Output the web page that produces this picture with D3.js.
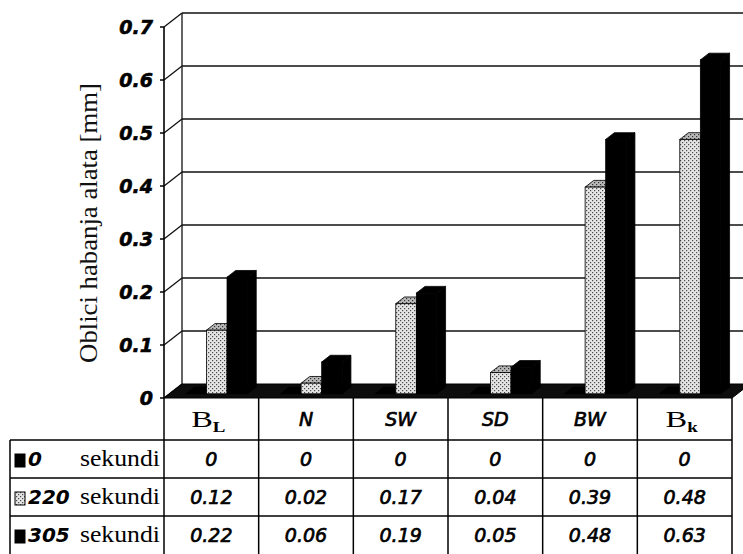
<!DOCTYPE html>
<html><head><meta charset="utf-8">
<script src="https://cdn.jsdelivr.net/npm/d3@7"></script>
<style>body{margin:0;background:#fff}svg{display:block}</style>
</head><body><svg id="c" width="743" height="554"></svg>
<script>
const categories = ["B_L","N","SW","SD","BW","B_k"];
const seriesNames = ["0","220","305"];
const seriesUnit = "sekundi";
const values0 = [0,0,0,0,0,0];
const values220 = [0.12,0.02,0.17,0.04,0.39,0.48];
const values305 = [0.22,0.06,0.19,0.05,0.48,0.63];
const yTicks = [0,0.1,0.2,0.3,0.4,0.5,0.6,0.7];
const yTitle = "Oblici habanja alata [mm]";

const SERIF = "'Liberation Serif', 'Times New Roman', Times, serif";
const SANS = "'DejaVu Sans', sans-serif";
const series = [values0, values220, values305];
const svg = d3.select("#c");
svg.append("rect").attr("width",743).attr("height",554).attr("fill","#fff");

const plotL=164, plotR=732, plotBottom=398, plotTop=27;
const DX=18, DY=-14, zFront=0.3, zBack=0.78;
const tableTop=440, tableBottom=554, legendL=10;

const x = d3.scaleBand().domain(categories).range([plotL,plotR]);
const xs = d3.scaleBand().domain(seriesNames).range([0,x.bandwidth()]).paddingInner(0).paddingOuter(0.8);
const y = d3.scaleLinear().domain([0,0.7]).range([plotBottom,plotTop]);
const rowY = d3.scaleBand().domain(seriesNames).range([tableTop,tableBottom]);

const defs = svg.append("defs");
function dotPattern(id, bg, dot){
  const p = defs.append("pattern").attr("id",id).attr("width",4).attr("height",4).attr("patternUnits","userSpaceOnUse");
  p.append("rect").attr("width",4).attr("height",4).attr("fill",bg);
  p.append("rect").attr("x",0).attr("y",0).attr("width",1.2).attr("height",1.2).attr("fill",dot);
  p.append("rect").attr("x",2).attr("y",2).attr("width",1.2).attr("height",1.2).attr("fill",dot);
}
dotPattern("dots","#e4e4e4","#4a4a4a");
dotPattern("dotsDark","#b8b8b8","#333");
const fills = ["#000","url(#dots)","#000"];
const topFills = ["#000","url(#dotsDark)","#000"];

const g = svg.append("g");
const y0 = y(0);
g.selectAll("line.grid").data(yTicks.slice(1)).join("line")
  .attr("x1",plotL+DX).attr("x2",plotR+DX)
  .attr("y1",d=>y(d)+DY).attr("y2",d=>y(d)+DY)
  .attr("stroke","#111").attr("stroke-width",1.3);
g.selectAll("line.diag").data(yTicks).join("line")
  .attr("x1",plotL).attr("x2",plotL+DX)
  .attr("y1",d=>y(d)).attr("y2",d=>y(d)+DY)
  .attr("stroke","#111").attr("stroke-width",1.3);
g.append("line").attr("x1",plotL+DX).attr("x2",plotL+DX).attr("y1",y(0.7)+DY).attr("y2",y0+DY)
  .attr("stroke","#111").attr("stroke-width",1.3);
g.append("line").attr("x1",plotL).attr("x2",plotL).attr("y1",y(0.7)).attr("y2",y0)
  .attr("stroke","#000").attr("stroke-width",1.6);
g.selectAll("line.tick").data(yTicks).join("line")
  .attr("x1",plotL-4).attr("x2",plotL).attr("y1",d=>y(d)).attr("y2",d=>y(d))
  .attr("stroke","#000").attr("stroke-width",1.5);
g.selectAll("text.tl").data(yTicks).join("text")
  .attr("x",153).attr("y",d=>y(d)).attr("dy","0.36em")
  .attr("text-anchor","end")
  .attr("font-family",SANS).attr("font-weight","bold").attr("font-style","italic")
  .attr("font-size",19).attr("stroke","#000").attr("stroke-width",0.6).attr("fill","#000")
  .text(d=>d===0?"0":d3.format(".1f")(d));
// y title: natural length ~ 10.47em; stretch along its length
svg.append("text").attr("transform","translate(97,223) rotate(-90) scale(1.07,1)")
  .attr("text-anchor","middle")
  .attr("font-family",SERIF).attr("font-size",25)
  .attr("fill","#111").text(yTitle);

g.append("polygon")
  .attr("points",[[plotL,y0],[plotR,y0],[plotR+DX,y0+DY],[plotL+DX,y0+DY]].map(p=>p.join(",")).join(" "))
  .attr("fill","#0d0d0d").attr("stroke","#000");

const bw = xs.bandwidth();
const ddx = DX*(zBack-zFront), ddy = DY*(zBack-zFront);
const barData = [];
categories.forEach((c,i)=>{
  seriesNames.forEach((s,j)=>{
    barData.push({c, s, j, v: series[j][i]});
  });
});
const bars = g.selectAll("g.bar").data(barData).join("g");
bars.each(function(d){
  const el = d3.select(this);
  const bx = x(d.c)+xs(d.s)+DX*zFront;
  const by = y0+DY*zFront;
  const top = by-(y0-y(d.v));
  const pts = a=>a.map(p=>p.join(",")).join(" ");
  el.append("polygon").attr("points",pts([[bx+bw,by],[bx+bw+ddx,by+ddy],[bx+bw+ddx,top+ddy],[bx+bw,top]]))
    .attr("fill",d.j===1?"url(#dotsDark)":"#000").attr("stroke","#000").attr("stroke-width",0.8);
  el.append("polygon").attr("points",pts([[bx,top],[bx+ddx,top+ddy],[bx+bw+ddx,top+ddy],[bx+bw,top]]))
    .attr("fill",topFills[d.j]).attr("stroke","#000").attr("stroke-width",0.8);
  el.append("rect").attr("x",bx).attr("y",top).attr("width",bw).attr("height",by-top)
    .attr("fill",fills[d.j]).attr("stroke","#000").attr("stroke-width",0.8);
});

const tg = svg.append("g");
const lineAttr = s=>s.attr("stroke","#000").attr("stroke-width",1.5);
const bounds = categories.map(c=>x(c)).concat([plotR]);
tg.selectAll("line.v").data(bounds).join("line")
  .attr("x1",d=>d).attr("x2",d=>d).attr("y1",y0).attr("y2",tableBottom).call(lineAttr);
tg.append("line").attr("x1",legendL).attr("x2",legendL).attr("y1",tableTop).attr("y2",tableBottom).call(lineAttr);
tg.selectAll("line.h").data(seriesNames).join("line")
  .attr("x1",legendL).attr("x2",plotR).attr("y1",d=>rowY(d)).attr("y2",d=>rowY(d)).call(lineAttr);

const headY = (y0+tableTop)/2;
categories.forEach(c=>{
  const cx = x(c)+x.bandwidth()/2;
  if(c.includes("_")){
    const [base,sub] = c.split("_");
    const t = tg.append("text").attr("transform",`translate(${cx-3},${headY+8}) scale(1.35,1)`)
      .attr("text-anchor","middle").attr("font-family",SERIF).attr("fill","#000");
    t.append("tspan").attr("font-size",24).text(base);
    t.append("tspan").attr("font-size",14).attr("font-weight","bold").attr("dy",5).text(sub);
  } else {
    tg.append("text").attr("x",cx).attr("y",headY).attr("dy","0.36em").attr("text-anchor","middle")
      .attr("font-family",SANS).attr("font-style","italic").attr("font-size",19)
      .attr("stroke","#000").attr("stroke-width",0.7).attr("fill","#000").text(c);
  }
});

seriesNames.forEach((s,j)=>{
  const cy = rowY(s)+rowY.bandwidth()/2;
  tg.append("rect").attr("x",15).attr("y",cy-5).attr("width",10).attr("height",13)
    .attr("fill",fills[j]).attr("stroke","#000").attr("stroke-width",1);
  tg.append("text").attr("x",28).attr("y",cy).attr("dy","0.36em")
    .attr("font-family",SANS).attr("font-weight","bold").attr("font-style","italic")
    .attr("font-size",20).attr("fill","#000").text(s);
  tg.append("text").attr("transform",`translate(160,${cy}) scale(1.12,1)`).attr("dy","0.3em").attr("text-anchor","end")
    .attr("font-family",SERIF).attr("font-size",23)
    .attr("fill","#000").text(seriesUnit);
  categories.forEach((c,i)=>{
    const v = series[j][i];
    tg.append("text").attr("x",x(c)+x.bandwidth()/2).attr("y",cy).attr("dy","0.36em")
      .attr("text-anchor","middle")
      .attr("font-family",SANS).attr("font-style","italic").attr("font-size",19)
      .attr("stroke","#000").attr("stroke-width",0.7).attr("fill","#000")
      .text(v===0?"0":d3.format(".2f")(v));
  });
});
</script></body></html>
